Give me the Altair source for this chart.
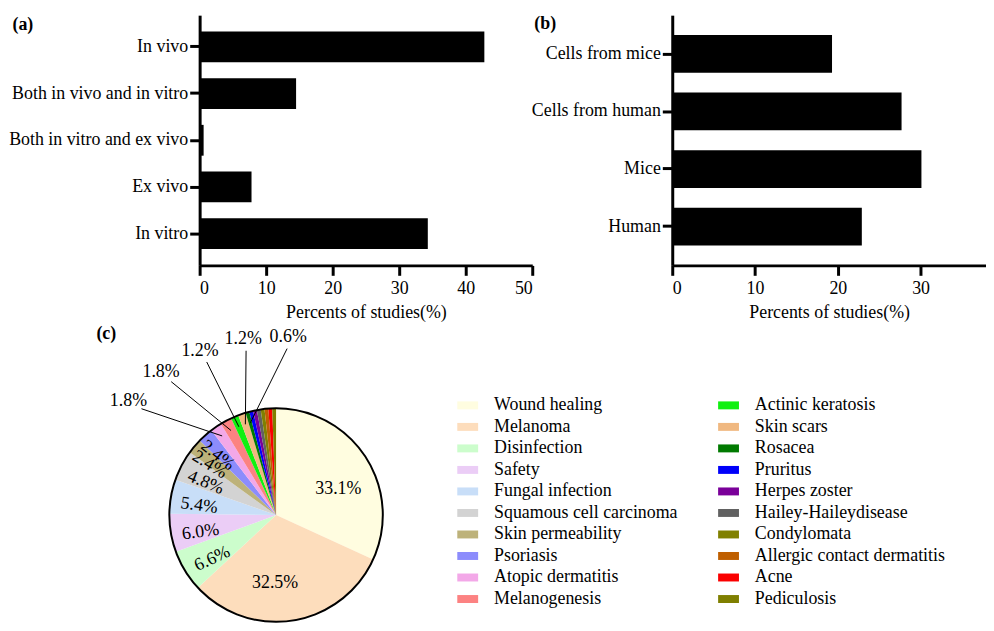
import math
import altair as alt
import pandas as pd

FONT = "Liberation Serif"

# ---------------- data ----------------
a_cats = ["In vivo", "Both in vivo and in vitro", "Both in vitro and ex vivo", "Ex vivo", "In vitro"]
a_vals = [42.8, 14.5, 0.6, 7.8, 34.3]

b_cats = ["Cells from mice", "Cells from human", "Mice", "Human"]
b_vals = [19.3, 27.7, 30.1, 22.9]

pie_cats = ["Wound healing", "Melanoma", "Disinfection", "Safety", "Fungal infection",
            "Squamous cell carcinoma", "Skin permeability", "Psoriasis", "Atopic dermatitis",
            "Melanogenesis", "Actinic keratosis", "Skin scars", "Rosacea", "Pruritus",
            "Herpes zoster", "Hailey-Haileydisease", "Condylomata",
            "Allergic contact dermatitis", "Acne", "Pediculosis"]
pie_pcts = [33.1, 32.5, 6.6, 6.0, 5.4, 4.8, 2.4, 2.4, 1.8, 1.8, 1.2, 1.2,
            0.6, 0.6, 0.6, 0.6, 0.6, 0.6, 0.6, 0.6]
pie_colors = ["#FFFDE0", "#FDDDBC", "#CCFDCC", "#EBCDF6", "#C8DEF8", "#D3D3D3",
              "#BDB27A", "#8C8CFC", "#F3A8E8", "#FC8282", "#10F010", "#F0B880",
              "#007A00", "#0000FA", "#7A0099", "#616161", "#808000", "#BF5F00",
              "#FA0000", "#7F7F00"]
labeled_small = ["Atopic dermatitis", "Melanogenesis", "Actinic keratosis", "Skin scars", "Rosacea"]

# ---------------- panel a ----------------
a_df = pd.DataFrame({"cat": a_cats, "val": a_vals})
bars_a = alt.Chart(a_df).mark_bar(color="black").encode(
    y=alt.Y("cat:N", sort=a_cats,
            scale=alt.Scale(paddingInner=0.34, paddingOuter=0.35),
            axis=alt.Axis(title=None, labelPadding=2, labelLimit=400)),
    x=alt.X("val:Q", scale=alt.Scale(domain=[0, 50], nice=False),
            axis=alt.Axis(values=[0, 10, 20, 30, 40, 50], title="Percents of studies(%)",
                          labelPadding=4, titlePadding=7)),
)
tag_a = alt.Chart(pd.DataFrame({"t": ["(a)"]})).mark_text(
    font=FONT, fontSize=18, fontWeight="bold", color="black"
).encode(x=alt.value(-178), y=alt.value(10), text="t:N")
panel_a = alt.layer(bars_a, tag_a).properties(width=335, height=252)

# ---------------- panel b ----------------
b_df = pd.DataFrame({"cat": b_cats, "val": b_vals})
bars_b = alt.Chart(b_df).mark_bar(color="black").encode(
    y=alt.Y("cat:N", sort=b_cats,
            scale=alt.Scale(paddingInner=0.345, paddingOuter=0.345),
            axis=alt.Axis(title=None, labelPadding=2, labelLimit=400)),
    x=alt.X("val:Q", scale=alt.Scale(domain=[0, 37.9], nice=False),
            axis=alt.Axis(values=[0, 10, 20, 30], title="Percents of studies(%)",
                          labelPadding=4, titlePadding=7)),
)
tag_b = alt.Chart(pd.DataFrame({"t": ["(b)"]})).mark_text(
    font=FONT, fontSize=18, fontWeight="bold", color="black"
).encode(x=alt.value(-128), y=alt.value(9), text="t:N")
panel_b = alt.layer(bars_b, tag_b).properties(width=316, height=252)

top = alt.hconcat(panel_a, panel_b, spacing=141, bounds="flush")

# ---------------- panel c ----------------
# pie view origin sits under panel a's plot origin
CX, CY, R = 77.0, 194.5, 107.5
LX1, LX2, LY0, LDY = 259.5, 522.2, 84.0, 21.67
PIE_H = 302

pie_df = pd.DataFrame({"cat": pie_cats, "pct": pie_pcts, "idx": list(range(len(pie_cats)))})
base = alt.Chart(pie_df)
color_scale = alt.Scale(domain=pie_cats, range=pie_colors)

arcs = base.mark_arc(outerRadius=R).encode(
    theta=alt.Theta("pct:Q", stack=True),
    order=alt.Order("idx:Q"),
    color=alt.Color("cat:N", scale=color_scale, legend=None),
    x=alt.value(CX), y=alt.value(CY),
)

outline = alt.Chart(pd.DataFrame({"v": [1]})).mark_arc(
    outerRadius=R, theta=0, theta2=math.tau, filled=False,
    stroke="black", strokeWidth=2
).encode(x=alt.value(CX), y=alt.value(CY))

calc = base.transform_window(
    cum="sum(pct)", sort=[alt.SortField("idx")], frame=[None, 0]
).transform_joinaggregate(
    total="sum(pct)"
).transform_calculate(
    mid="(datum.cum - datum.pct / 2) / datum.total * 2 * PI",
    lab="format(datum.pct, '.1f') + '%'",
)

inner = calc.transform_filter("datum.pct >= 2.4").transform_calculate(
    r="datum.pct > 10 ? 68 : (datum.pct > 3 ? 78 : 84)",
    a="datum.pct > 10 ? datum.mid + 10 * PI / 180 : datum.mid - 3 * PI / 180",
    deg="datum.mid * 180 / PI",
).transform_calculate(
    lx=f"{CX} + datum.r * sin(datum.a)",
    ly=f"{CY} - datum.r * cos(datum.a)",
    rot="datum.pct > 10 ? 0 : ((datum.deg - 270) * 0.8 + 360) % 360",
).mark_text(font=FONT, fontSize=18, color="black").encode(
    x=alt.X("lx:Q", scale=None, axis=None),
    y=alt.Y("ly:Q", scale=None, axis=None),
    angle=alt.Angle("rot:Q", scale=None),
    text="lab:N",
)

outer_base = calc.transform_filter(
    alt.FieldOneOfPredicate(field="cat", oneOf=labeled_small)
).transform_window(
    rank="row_number()", sort=[alt.SortField("idx")]
).transform_joinaggregate(
    mmid="mean(mid)", n="count()"
).transform_calculate(
    la="datum.mmid + (0.5 + (datum.rank - (datum.n + 1) / 2) * 13.5) * PI / 180"
).transform_calculate(
    x1=f"{CX} + {R - 11} * sin(datum.mid)",
    y1=f"{CY} - {R - 11} * cos(datum.mid)",
    x2=f"{CX} + 176 * sin(datum.la)",
    y2=f"{CY} - 168 * cos(datum.la)",
    tx=f"{CX} + 193 * sin(datum.la)",
    ty=f"{CY} - 180 * cos(datum.la)",
)

leaders = outer_base.mark_rule(color="black", strokeWidth=1).encode(
    x=alt.X("x1:Q", scale=None, axis=None),
    y=alt.Y("y1:Q", scale=None, axis=None),
    x2="x2:Q",
    y2="y2:Q",
)
outer_labels = outer_base.mark_text(font=FONT, fontSize=18, color="black").encode(
    x=alt.X("tx:Q", scale=None, axis=None),
    y=alt.Y("ty:Q", scale=None, axis=None),
    text="lab:N",
)

# hand-drawn legend: two columns of ten
leg = base.transform_calculate(
    col="floor(datum.idx / 10)",
    row="datum.idx % 10",
).transform_calculate(
    sx=f"datum.col == 0 ? {LX1} : {LX2}",
    sy=f"{LY0} + datum.row * {LDY}",
).transform_calculate(
    sx2="datum.sx + 21",
    sy1="datum.sy - 4",
    sy2="datum.sy + 4",
    tx="datum.sx + 37",
)
leg_sym = leg.mark_rect().encode(
    x=alt.X("sx:Q", scale=None, axis=None),
    x2="sx2:Q",
    y=alt.Y("sy1:Q", scale=None, axis=None),
    y2="sy2:Q",
    color=alt.Color("cat:N", scale=color_scale, legend=None),
)
leg_txt = leg.mark_text(font=FONT, fontSize=18, color="black", align="left",
                        baseline="middle").encode(
    x=alt.X("tx:Q", scale=None, axis=None),
    y=alt.Y("sy:Q", scale=None, axis=None),
    text="cat:N",
)

tag_c = alt.Chart(pd.DataFrame({"t": ["(c)"]})).mark_text(
    font=FONT, fontSize=18, fontWeight="bold", color="black"
).encode(x=alt.value(-94), y=alt.value(12), text="t:N")

panel_c = alt.layer(arcs, outline, inner, leaders, outer_labels, leg_sym, leg_txt, tag_c).properties(
    width=770, height=PIE_H
)

chart = alt.vconcat(top, panel_c, spacing=0).properties(
    padding={"left": 0, "top": 5, "right": 0, "bottom": 0}
).configure_axis(
    domainColor="black", domainWidth=3, tickColor="black", tickWidth=3, tickSize=10,
    labelFont=FONT, labelFontSize=18, labelColor="black",
    titleFont=FONT, titleFontSize=18, titleFontWeight="normal", titleColor="black",
    grid=False,
).configure_view(stroke=None)

chart.save("out.html", embed_options={"renderer": "svg", "actions": False})
